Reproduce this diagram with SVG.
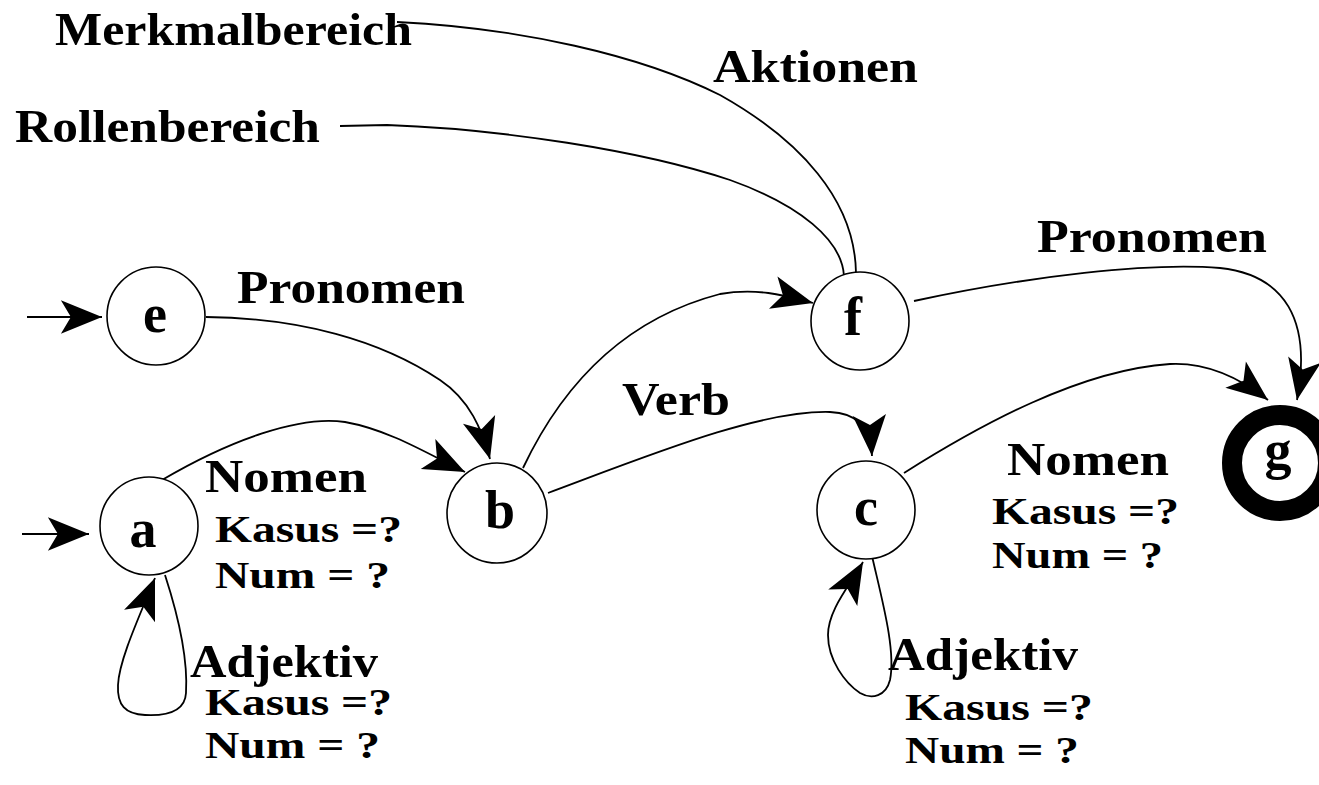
<svg xmlns="http://www.w3.org/2000/svg" width="1319" height="785" viewBox="0 0 1319 785">
<style>
  .bg { fill: #ffffff; }
  .node { fill: #ffffff; stroke: #000000; stroke-width: 1.6; }
  .final { fill: #ffffff; stroke: #000000; stroke-width: 20; }
  .edge { fill: none; stroke: #000000; stroke-width: 1.8; }
  .arrow { marker-end: url(#ah); }
  text { font-family: "Liberation Serif", "Times New Roman", serif; font-weight: bold; fill: #000000; }
  .nl { font-size: 54px; text-anchor: middle; }
  .big { font-size: 47px; }
  .small { font-size: 38px; }
</style>
<defs>
  <marker id="ah" markerUnits="userSpaceOnUse" markerWidth="50" markerHeight="50" viewBox="-40 -20 45 40" refX="0" refY="0" orient="auto" overflow="visible">
    <path d="M0,0 L-37,-15 L-28,0 L-37,15 Z" fill="#000000"/>
  </marker>
</defs>
<rect class="bg" x="0" y="0" width="1319" height="785"/>

<g id="connectors">
  <path class="edge" d="M397,22 C520,28 640,55 720,95 C800,140 855,200 856,273"/>
  <path class="edge" d="M340,126 L387,125 C500,129 640,150 730,180 C800,205 842,240 844,276"/>
  <path class="edge arrow" d="M27,317 L102,317"/>
  <path class="edge arrow" d="M22,534 L89,534"/>
  <path class="edge arrow" d="M206,317 C300,318 380,340 440,380 C470,400 482,430 490,459"/>
  <path class="edge arrow" d="M162,480 C230,440 300,415 345,422 C390,430 430,455 465,472"/>
  <path class="edge arrow" d="M165,575 C178,615 188,660 186,693 C185,712 165,716 145,715 C125,714 117,705 118,685 C119,660 140,615 155,578"/>
  <path class="edge arrow" d="M523,468 C560,390 620,320 720,294 C760,287 790,297 813,303"/>
  <path class="edge arrow" d="M548,493 C650,455 760,410 830,412 C855,413 870,425 872,456"/>
  <path class="edge arrow" d="M914,301 C1030,276 1150,262 1220,268 C1285,275 1312,320 1297,400"/>
  <path class="edge arrow" d="M904,473 C980,425 1080,370 1170,364 C1210,362 1245,382 1268,400"/>
  <path class="edge arrow" d="M872,556 C882,600 896,650 890,680 C886,696 872,700 860,693 C845,683 828,660 828,635 C828,610 850,585 863,562"/>
</g>

<g id="node-e">
  <circle class="node" cx="156" cy="316" r="49"/>
  <text class="nl" x="155" y="332">e</text>
</g>
<g id="node-a">
  <circle class="node" cx="149" cy="526" r="49"/>
  <text class="nl" x="143" y="547">a</text>
</g>
<g id="node-b">
  <circle class="node" cx="497" cy="513" r="50"/>
  <text class="nl" x="500" y="528">b</text>
</g>
<g id="node-f">
  <circle class="node" cx="860" cy="321" r="49"/>
  <text class="nl" x="853" y="335">f</text>
</g>
<g id="node-c">
  <circle class="node" cx="866" cy="510" r="49"/>
  <text class="nl" x="866" y="525">c</text>
</g>
<g id="node-g">
  <circle class="final" cx="1280" cy="463" r="48"/>
  <text class="nl" x="1278" y="468">g</text>
</g>

<g id="labels">
  <text class="big" x="55" y="45" textLength="357" lengthAdjust="spacingAndGlyphs">Merkmalbereich</text>
  <text class="big" x="15" y="142" textLength="305" lengthAdjust="spacingAndGlyphs">Rollenbereich</text>
  <text class="big" x="713" y="82" textLength="205" lengthAdjust="spacingAndGlyphs">Aktionen</text>
  <text class="big" x="237" y="303" textLength="228" lengthAdjust="spacingAndGlyphs">Pronomen</text>
  <text class="big" x="1037" y="252" textLength="230" lengthAdjust="spacingAndGlyphs">Pronomen</text>
  <text class="big" x="622" y="415" textLength="108" lengthAdjust="spacingAndGlyphs">Verb</text>
  <text class="big" x="205" y="492" textLength="162" lengthAdjust="spacingAndGlyphs">Nomen</text>
  <text class="small" x="215" y="542" textLength="187" lengthAdjust="spacingAndGlyphs">Kasus =?</text>
  <text class="small" x="215" y="588" textLength="175" lengthAdjust="spacingAndGlyphs">Num = ?</text>
  <text class="big" x="190" y="677" textLength="188" lengthAdjust="spacingAndGlyphs">Adjektiv</text>
  <text class="small" x="205" y="715" textLength="187" lengthAdjust="spacingAndGlyphs">Kasus =?</text>
  <text class="small" x="205" y="758" textLength="175" lengthAdjust="spacingAndGlyphs">Num = ?</text>
  <text class="big" x="1007" y="475" textLength="162" lengthAdjust="spacingAndGlyphs">Nomen</text>
  <text class="small" x="992" y="524" textLength="187" lengthAdjust="spacingAndGlyphs">Kasus =?</text>
  <text class="small" x="992" y="568" textLength="171" lengthAdjust="spacingAndGlyphs">Num = ?</text>
  <text class="big" x="888" y="670" textLength="190" lengthAdjust="spacingAndGlyphs">Adjektiv</text>
  <text class="small" x="905" y="720" textLength="188" lengthAdjust="spacingAndGlyphs">Kasus =?</text>
  <text class="small" x="905" y="763" textLength="174" lengthAdjust="spacingAndGlyphs">Num = ?</text>
</g>
</svg>
